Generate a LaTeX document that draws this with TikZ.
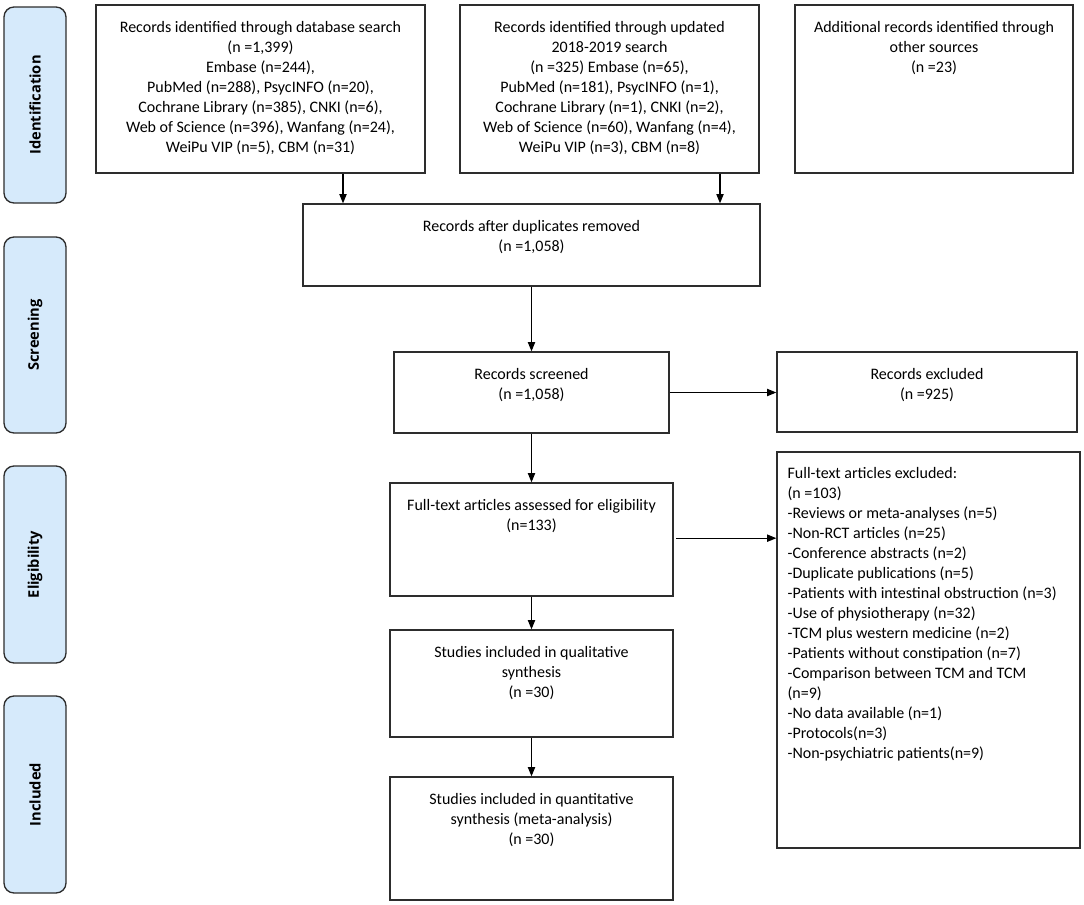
\documentclass[tikz,border=0pt]{standalone}
\usepackage{fontspec}
\setmainfont{Carlito}
\newfontfamily\stagefont{Open Sans}
\usetikzlibrary{arrows.meta}

\definecolor{stageblue}{RGB}{214,234,251}
\definecolor{edgegray}{RGB}{45,45,45}

\tikzset{
    box/.style 2 args={draw=edgegray, line width=1pt, minimum width=#1*0.75pt, minimum height=#2*0.75pt, inner sep=0pt},
    stage/.style={draw=edgegray, line width=1pt, fill=stageblue, rounded corners=7.5pt, rotate=90,
        minimum width=#1*0.75pt, minimum height=62*0.75pt, inner sep=0pt, font=\stagefont\bfseries\fontsize{11}{13}\selectfont},
    txt/.style={anchor=north, align=center, inner sep=0pt, font=\fontsize{12}{15}\selectfont},
    arr/.style={-{Triangle[length=7pt, width=5.5pt]}, line width=0.8pt},
}

\begin{document}
\begin{tikzpicture}[x=0.75pt, y=-0.75pt]
    \useasboundingbox (0,0) rectangle (1084,904);

    % stages on the left
    \node[stage=196] (ident) at (35,105) {Identification};
    \node[stage=196] (screen) at (35,335) {Screening};
    \node[stage=197] (elig) at (35,564.5) {Eligibility};
    \node[stage=197] (incl) at (35,794.5) {Included};

    % boxes
    \node[box={329}{168}] (db) at (260.5,89) {};
    \node[box={299}{168}] (upd) at (609.5,89) {};
    \node[box={278}{168}] (other) at (934,89) {};
    \node[box={457}{82}] (dup) at (531.5,245) {};
    \node[box={275}{81}] (scr) at (531.5,392.5) {};
    \node[box={300}{80}] (exc) at (927,392) {};
    \node[box={283}{113}] (full) at (531.5,539.5) {};
    \node[box={303}{396}] (fullexc) at (928.5,650) {};
    \node[box={283}{107}] (qual) at (531.5,683.5) {};
    \node[box={283}{123}] (quan) at (531.5,838.5) {};

    % texts
    \node[txt] (dbtxt) at ([yshift=-12.5pt]db.north) {Records identified through database search\\(n =1,399)\\Embase (n=244),\\PubMed (n=288), PsycINFO (n=20),\\Cochrane Library (n=385), CNKI (n=6),\\Web of Science (n=396), Wanfang (n=24),\hspace*{25pt}\\WeiPu VIP (n=5), CBM (n=31)};
    \node[txt] (updtxt) at ([yshift=-12.5pt]upd.north) {Records identified through updated\\2018-2019 search\\(n =325) Embase (n=65),\\PubMed (n=181), PsycINFO (n=1),\\Cochrane Library (n=1), CNKI (n=2),\\Web of Science (n=60), Wanfang (n=4),\hspace*{15pt}\\WeiPu VIP (n=3), CBM (n=8)};
    \node[txt] (othertxt) at ([yshift=-12.5pt]other.north) {Additional records identified through\\other sources\\(n =23)};
    \node[txt] (duptxt) at ([yshift=-12.5pt]dup.north) {Records after duplicates removed\\(n =1,058)};
    \node[txt] (scrtxt) at ([yshift=-12.5pt]scr.north) {Records screened\\(n =1,058)};
    \node[txt] (exctxt) at ([yshift=-12.5pt]exc.north) {Records excluded\\(n =925)};
    \node[txt] (fulltxt) at ([yshift=-12.5pt]full.north) {Full-text articles assessed for eligibility\\(n=133)};
    \node[txt] (qualtxt) at ([yshift=-12.5pt]qual.north) {Studies included in qualitative\\synthesis\\(n =30)};
    \node[txt] (quantxt) at ([yshift=-12.5pt]quan.north) {Studies included in quantitative\\synthesis (meta-analysis)\\(n =30)};
    \node[txt, anchor=north west, align=left] (fullexctxt) at ([xshift=8.25pt, yshift=-12pt]fullexc.north west) {Full-text articles excluded:\\(n =103)\\-Reviews or meta-analyses (n=5)\\-Non-RCT articles (n=25)\\-Conference abstracts (n=2)\\-Duplicate publications (n=5)\\-Patients with intestinal obstruction (n=3)\\-Use of physiotherapy (n=32)\\-TCM plus western medicine (n=2)\\-Patients without constipation (n=7)\\-Comparison between TCM and TCM\\(n=9)\\-No data available (n=1)\\-Protocols(n=3)\\-Non-psychiatric patients(n=9)};

    % arrows
    \coordinate (colA) at (343,0);
    \coordinate (colB) at (720,0);
    \draw[arr] (db.south -| colA) -- (dup.north -| colA);
    \draw[arr] (upd.south -| colB) -- (dup.north -| colB);
    \draw[arr] (dup.south) -- (scr.north);
    \draw[arr] (scr.east) -- (exc.west |- scr.east);
    \draw[arr] (scr.south) -- (full.north);
    \draw[arr, shorten <=2pt] ([yshift=1pt]full.east) -- ([yshift=1pt]fullexc.west |- full.east);
    \draw[arr] (full.south) -- (qual.north);
    \draw[arr] (qual.south) -- (quan.north);

\end{tikzpicture}
\end{document}
